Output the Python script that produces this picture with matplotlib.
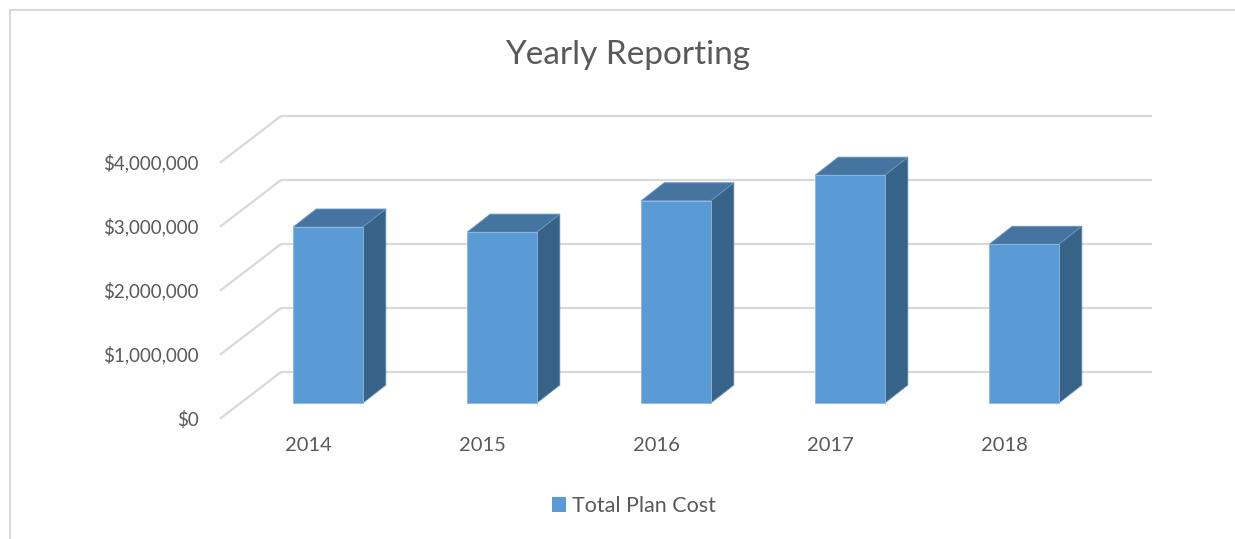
import matplotlib
matplotlib.use("Agg")
import matplotlib.pyplot as plt
from matplotlib.patches import Patch, Polygon
from matplotlib.lines import Line2D
from matplotlib.ticker import FuncFormatter

# ---- data ----
years = ["2014", "2015", "2016", "2017", "2018"]
total_plan_cost = [2750000, 2670000, 3160000, 3560000, 2480000]
y_ticks = [0, 1000000, 2000000, 3000000, 4000000]
series_name = "Total Plan Cost"
title = "Yearly Reporting"

# ---- style ----
FONT = ["Lato", "DejaVu Sans"]
plt.rcParams["font.family"] = FONT
TXT = "#595959"
GRID = "#D9D9D9"
FRONT = "#5B9BD5"
TOP = "#4574A1"
SIDE = "#386389"

W, H = 1235, 539
fig = plt.figure(figsize=(W / 100, H / 100), dpi=100)

# front plane axes (pixel geometry)
px_l, px_r, px_b, px_t = 221, 1091, 418, 162
ax = fig.add_axes([px_l / W, 1 - px_b / H, (px_r - px_l) / W, (px_b - px_t) / H])
ax.set_xlim(-0.5, len(years) - 0.5)
ax.set_ylim(0, 4000000)
for s in ax.spines.values():
    s.set_visible(False)
ax.patch.set_visible(False)

sx = (len(years)) / (px_r - px_l)          # data units per px (x)
sy = 4000000 / (px_b - px_t)               # data units per px (y)

# depth offsets in pixels
wall_dx, wall_dy = 60, 46
bar_f_dx, bar_f_dy = 20, 15
bar_b_dx, bar_b_dy = 43, 33
bar_w = 0.40
back_right_px = 1151

# gridlines (front diagonal + back wall horizontal)
for v in y_ticks:
    x0 = -0.5
    x1 = x0 + wall_dx * sx
    y1 = v + wall_dy * sy
    x2 = -0.5 + (back_right_px - px_l) * sx
    ax.add_line(Line2D([x0, x1, x2], [v, y1, y1], color=GRID, lw=1.6,
                       clip_on=False, zorder=1, solid_joinstyle="miter"))

# bars
for i, v in enumerate(total_plan_cost):
    fx0 = i - bar_w / 2 + bar_f_dx * sx
    fx1 = i + bar_w / 2 + bar_f_dx * sx
    fy0 = bar_f_dy * sy
    fy1 = v + bar_f_dy * sy
    ddx = (bar_b_dx - bar_f_dx) * sx
    ddy = (bar_b_dy - bar_f_dy) * sy
    side = Polygon([(fx1, fy0), (fx1 + ddx, fy0 + ddy), (fx1 + ddx, fy1 + ddy), (fx1, fy1)],
                   closed=True, facecolor=SIDE, edgecolor="#5f86ad", lw=0.6,
                   clip_on=False, zorder=3)
    top = Polygon([(fx0, fy1), (fx1, fy1), (fx1 + ddx, fy1 + ddy), (fx0 + ddx, fy1 + ddy)],
                  closed=True, facecolor=TOP, edgecolor="#6d95bf", lw=0.6,
                  clip_on=False, zorder=3)
    ax.add_patch(side)
    ax.add_patch(top)
    ax.bar(i + bar_f_dx * sx, v, bottom=fy0, width=bar_w, color=FRONT,
           edgecolor="#8fb6e0", lw=0.6, clip_on=False, zorder=4)

# ticks
ax.set_yticks(y_ticks)
ax.yaxis.set_major_formatter(FuncFormatter(lambda v, p: "${:,.0f}".format(v)))
ax.set_xticks(range(len(years)))
ax.set_xticklabels(years)
ax.tick_params(axis="y", length=0, pad=16, labelsize=13.5, labelcolor=TXT)
ax.tick_params(axis="x", length=0, pad=14, labelsize=14.5, labelcolor=TXT)

# title
fig.text(628 / W, 1 - 55 / H, title, ha="center", va="center",
         fontsize=24, color=TXT)

# legend
fig.legend(handles=[Patch(facecolor=FRONT, edgecolor="none", label=series_name)],
           loc="center", bbox_to_anchor=(634 / W, 1 - 506 / H), frameon=False,
           fontsize=15.5, labelcolor=TXT, handlelength=0.65, handleheight=0.65,
           handletextpad=0.3)

# outer frame lines
fig.add_artist(Line2D([10 / W, 1], [1 - 10 / H, 1 - 10 / H], color=GRID, lw=1.5,
                      transform=fig.transFigure))
fig.add_artist(Line2D([10 / W, 10 / W], [0, 1 - 10 / H], color=GRID, lw=1.5,
                      transform=fig.transFigure))

fig.savefig("out.png", dpi=100)
